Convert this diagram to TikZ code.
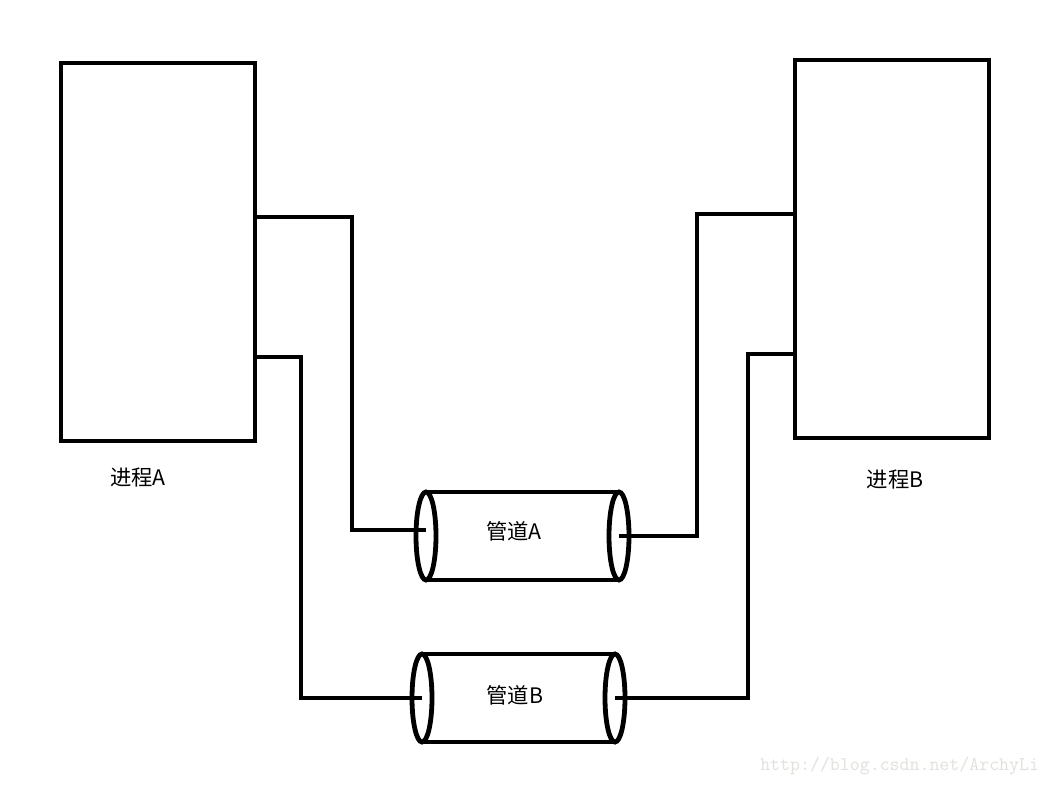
\documentclass[tikz,border=0pt]{standalone}
\usepackage{fontspec}
\newfontfamily\cjk{Noto Sans CJK SC}
\begin{document}
\begin{tikzpicture}[x=0.75pt,y=-0.75pt,
  thick line/.style={line width=3.6pt, line join=miter},
  procbox/.style={draw, line width=3.6pt, minimum width=194*0.75pt, minimum height=378*0.75pt, inner sep=0pt},
  lbl/.style={font=\cjk\fontsize{16}{18}\selectfont, inner sep=0pt}]
\useasboundingbox (0,0) rectangle (1050,785);
\fill[white] (0,0) rectangle (1050,785);
% process boxes
\node[procbox] (pa) at (158,252) {};
\node[procbox] (pb) at (892,249) {};
\node[lbl] (la) at (138,478) {进程A};
\node[lbl] (lb) at (895,480) {进程B};
% pipe A
\coordinate (a1) at (426,536);
\coordinate (a2) at (619,536);
\draw[thick line] (426,492) -- (619,492);
\draw[thick line] (426,580) -- (619,580);
\draw[thick line, fill=white] (a2) ellipse [x radius=10, y radius=44];
\draw[thick line, fill=white] (a1) ellipse [x radius=10, y radius=44];
\node[lbl] (pipeA) at (514,531) {管道A};
% pipe B
\coordinate (b1) at (422,698);
\coordinate (b2) at (615,698);
\draw[thick line] (422,654) -- (615,654);
\draw[thick line] (422,742) -- (615,742);
\draw[thick line, fill=white] (b2) ellipse [x radius=10, y radius=44];
\draw[thick line, fill=white] (b1) ellipse [x radius=10, y radius=44];
\node[lbl] (pipeB) at (515,695) {管道B};
% connectors
\draw[thick line] (pa.east |- 0,217) -| (352,530) -- (a1 |- 0,530);
\draw[thick line] (pa.east |- 0,357) -| (301,698) -- (b1);
\draw[thick line] (a2) -| (697,214) -- (pb.west |- 0,214);
\draw[thick line] (b2) -| (748,354) -- (pb.west |- 0,354);
% watermark
\node[font=\ttfamily\fontsize{14.5}{16}\selectfont, text={rgb,255:red,225;green,225;blue,220}, inner sep=0pt, anchor=west] (wm) at (760,766) {http://blog.csdn.net/ArchyLi};
\end{tikzpicture}
\end{document}
